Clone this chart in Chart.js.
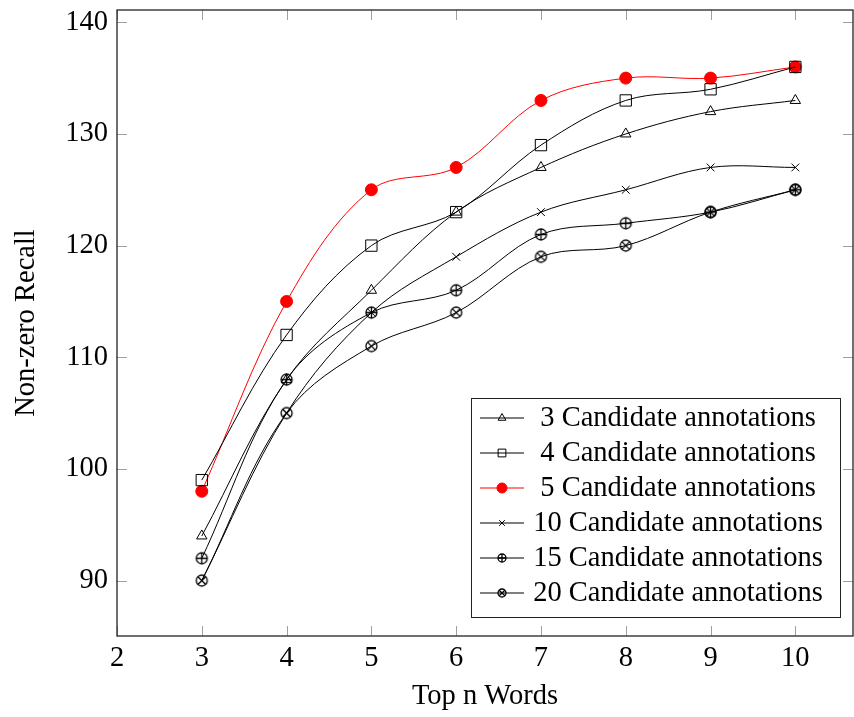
<!DOCTYPE html>
<html>
<head>
<meta charset="utf-8">
<script src="https://cdn.jsdelivr.net/npm/chart.js@4.4.1/dist/chart.umd.min.js"></script>
<style>
  html, body { margin: 0; padding: 0; background: #fff; }
</style>
</head>
<body>
<canvas id="chart" width="854" height="717"></canvas>
<script>
// values
const topN = [3, 4, 5, 6, 7, 8, 9, 10];
const cand3 = [94, 108, 116, 123, 127, 130, 132, 133];
const cand4 = [99, 112, 120, 123, 129, 133, 134, 136];
const cand5 = [98, 115, 125, 127, 133, 135, 135, 136];
const cand10 = [90, 105, 114, 119, 123, 125, 127, 127];
const cand15 = [92, 108, 114, 116, 121, 122, 123, 125];
const cand20 = [90, 105, 111, 114, 119, 120, 123, 125];
const seriesLabels = ['3 Candidate annotations', '4 Candidate annotations', '5 Candidate annotations',
  '10 Candidate annotations', '15 Candidate annotations', '20 Candidate annotations'];

const FONT = "'Liberation Serif', 'Times New Roman', serif";
const FSIZE = 28.5;

// circle marks with plus / cross inside (pgfplots oplus / otimes)
function circleMark(r, kind) {
  const s = Math.ceil(r * 2 + 4);
  const cv = document.createElement('canvas');
  cv.width = s; cv.height = s;
  const g = cv.getContext('2d');
  const c = s / 2;
  g.strokeStyle = '#000';
  g.lineWidth = 1.3;
  g.beginPath();
  g.arc(c, c, r, 0, Math.PI * 2);
  g.stroke();
  g.beginPath();
  if (kind === 'plus') {
    g.moveTo(c - r, c); g.lineTo(c + r, c);
    g.moveTo(c, c - r); g.lineTo(c, c + r);
  } else {
    const d = r * Math.SQRT1_2;
    g.moveTo(c - d, c - d); g.lineTo(c + d, c + d);
    g.moveTo(c - d, c + d); g.lineTo(c + d, c - d);
  }
  g.stroke();
  return cv;
}

const oplusBig = circleMark(5.5, 'plus');
const otimesBig = circleMark(5.5, 'times');
const oplusSmall = circleMark(4, 'plus');
const otimesSmall = circleMark(4, 'times');

const styles = [
  { color: '#000', point: 'triangle', radius: 6, legendPoint: 'triangle', legendRadius: 4.5, fill: 'rgba(0,0,0,0)' },
  { color: '#000', point: 'rect', radius: 8, legendPoint: 'rect', legendRadius: 5.5, fill: 'rgba(0,0,0,0)' },
  { color: '#ff0000', point: 'circle', radius: 6, legendPoint: 'circle', legendRadius: 5, fill: '#ff0000' },
  { color: '#000', point: 'crossRot', radius: 5.5, legendPoint: 'crossRot', legendRadius: 4, fill: 'rgba(0,0,0,0)' },
  { color: '#000', point: oplusBig, radius: 6, legendPoint: oplusSmall, legendRadius: 4, fill: 'rgba(0,0,0,0)' },
  { color: '#000', point: otimesBig, radius: 6, legendPoint: otimesSmall, legendRadius: 4, fill: 'rgba(0,0,0,0)' }
];

const allSeries = [cand3, cand4, cand5, cand10, cand15, cand20];

const datasets = allSeries.map((vals, i) => ({
  label: seriesLabels[i],
  data: topN.map((x, j) => ({ x: x, y: vals[j] })),
  borderColor: styles[i].color,
  backgroundColor: styles[i].fill,
  borderWidth: 1,
  pointStyle: styles[i].point,
  pointRadius: styles[i].radius,
  pointBorderColor: styles[i].color,
  pointBackgroundColor: styles[i].fill,
  pointBorderWidth: 1,
  tension: 0.35,
  fill: false
}));

// frame + inward ticks on all four sides
const framePlugin = {
  id: 'frame',
  afterDraw(chart) {
    const { ctx, chartArea: a, scales } = chart;
    ctx.save();
    ctx.strokeStyle = '#a0a0a0';
    ctx.lineWidth = 1;
    const tl = 10;
    ctx.beginPath();
    scales.x.ticks.forEach(t => {
      const px = Math.round(scales.x.getPixelForValue(t.value)) + 0.5;
      ctx.moveTo(px, a.bottom); ctx.lineTo(px, a.bottom - tl);
      ctx.moveTo(px, a.top); ctx.lineTo(px, a.top + tl);
    });
    scales.y.ticks.forEach(t => {
      const py = Math.round(scales.y.getPixelForValue(t.value)) + 0.5;
      ctx.moveTo(a.left, py); ctx.lineTo(a.left + tl, py);
      ctx.moveTo(a.right, py); ctx.lineTo(a.right - tl, py);
    });
    ctx.stroke();
    ctx.strokeStyle = '#222';
    ctx.lineWidth = 1.3;
    ctx.strokeRect(a.left, a.top, a.right - a.left, a.bottom - a.top);
    ctx.restore();
  }
};

// legend box in the lower right of the plot
const legendPlugin = {
  id: 'boxLegend',
  afterDraw(chart) {
    const { ctx, chartArea: a } = chart;
    const w = 369, h = 219;
    const right = a.right - 13, bottom = a.bottom - 19;
    const left = right - w, top = bottom - h;
    ctx.save();
    ctx.fillStyle = '#fff';
    ctx.fillRect(left, top, w, h);
    ctx.strokeStyle = '#222';
    ctx.lineWidth = 1;
    ctx.strokeRect(left + 0.5, top + 0.5, w, h);
    ctx.font = FSIZE + 'px ' + FONT;
    ctx.textAlign = 'center';
    ctx.textBaseline = 'middle';
    seriesLabels.forEach((lab, i) => {
      const y = top + 20 + i * 35;
      const st = styles[i];
      ctx.strokeStyle = st.color;
      ctx.lineWidth = 1;
      ctx.beginPath();
      ctx.moveTo(left + 9, y); ctx.lineTo(left + 53, y);
      ctx.stroke();
      ctx.fillStyle = st.fill;
      ctx.strokeStyle = st.color;
      Chart.helpers.drawPoint(ctx, { pointStyle: st.legendPoint, radius: st.legendRadius, rotation: 0, borderWidth: 1 }, left + 31, y);
      ctx.fillStyle = '#000';
      ctx.fillText(lab, left + 207, y + 1);
    });
    ctx.restore();
  }
};

new Chart(document.getElementById('chart'), {
  type: 'line',
  data: { datasets: datasets },
  plugins: [framePlugin, legendPlugin],
  options: {
    responsive: false,
    animation: false,
    devicePixelRatio: 1,
    layout: { autoPadding: false, padding: { top: 10, right: 1, left: 0, bottom: 0 } },
    plugins: { legend: { display: false }, tooltip: { enabled: false } },
    scales: {
      x: {
        type: 'linear',
        min: 2,
        max: 10.68,
        grid: { display: false, drawTicks: false },
        border: { display: false },
        ticks: { stepSize: 1, includeBounds: false, padding: 5, maxRotation: 0, color: '#000', font: { family: FONT, size: FSIZE } },
        title: { display: true, text: 'Top n Words', color: '#000', padding: { top: 3, bottom: 3 }, font: { family: FONT, size: FSIZE } },
        afterFit(scale) {
          scale.height = 81;
          scale.paddingLeft = 0; scale.paddingRight = 0;
        }
      },
      y: {
        type: 'linear',
        min: 85.04,
        max: 141.1,
        grid: { display: false, drawTicks: false },
        border: { display: false },
        ticks: { stepSize: 10, includeBounds: false, padding: 9, color: '#000', font: { family: FONT, size: FSIZE } },
        title: { display: true, text: 'Non-zero Recall', color: '#000', padding: { top: 9, bottom: 9 }, font: { family: FONT, size: FSIZE } },
        afterFit(scale) {
          scale.width = 117;
          scale.paddingTop = 0; scale.paddingBottom = 0;
        }
      }
    }
  }
});
</script>
</body>
</html>
